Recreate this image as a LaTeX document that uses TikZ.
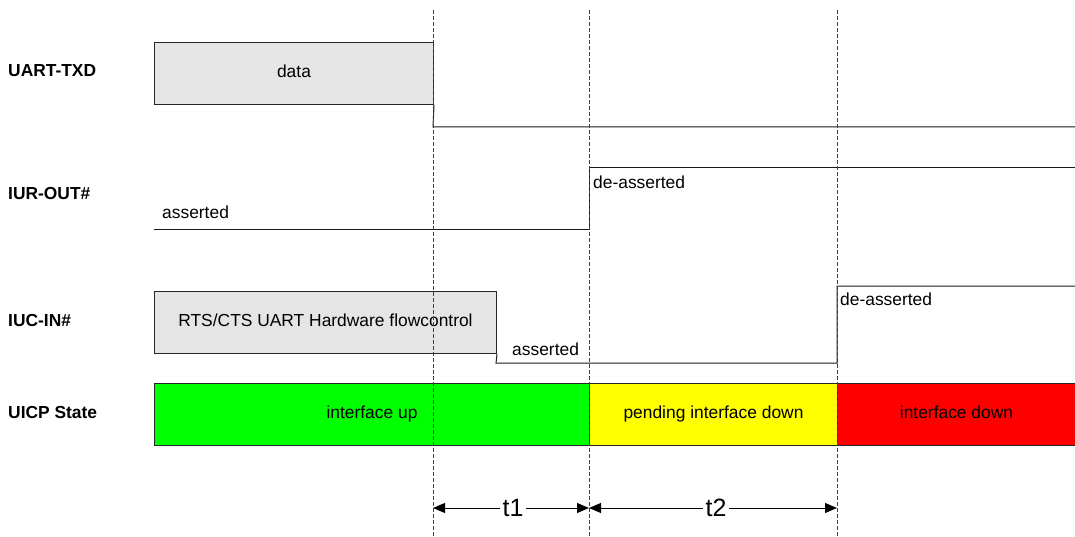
\documentclass[tikz,border=0pt]{standalone}
\usepackage{fontspec}
\setmainfont{Liberation Sans}
\usetikzlibrary{arrows.meta}
\begin{document}
\begin{tikzpicture}[x=1pt,y=-1pt,
  lbl/.style={font=\fontsize{17.4}{19}\selectfont\bfseries, anchor=west, inner sep=0pt, text height=0.85em, text depth=0pt},
  txt/.style={font=\fontsize{17.4}{19}\selectfont, inner sep=0pt, text height=0.85em, text depth=0pt},
  sig/.style={draw=black!90, line width=1pt},
  vline/.style={draw=black!75, dash pattern=on 4pt off 2pt, line width=0.8pt},
  blk/.style={draw=black!85, line width=1pt, inner sep=0pt, anchor=north west, font=\fontsize{17.4}{19}\selectfont, text height=0.85em, text depth=0pt},
  dimarrow/.style={-{Triangle[length=12pt,width=10pt]}, line width=1pt, draw=black},
  tlbl/.style={font=\fontsize{25}{27}\selectfont, inner sep=2pt}
]
\useasboundingbox (0,0) rectangle (1075,537);

% row labels
\node[lbl] (l1) at (8,72) {UART-TXD};
\node[lbl] (l2) at (8,195) {IUR-OUT\#};
\node[lbl] (l3) at (8,322) {IUC-IN\#};
\node[lbl] (l4) at (8,414) {UICP State};

% UART-TXD
\node[blk, fill=black!10, minimum width=279pt, minimum height=62pt] (data) at (154,42) {data};
\coordinate (tx1) at (433,127);
\coordinate (tx2) at (1075,127);
\draw[sig] (data.south east) -- (tx1) -- (tx2);

% IUR-OUT#
\coordinate (ur0) at (154,230);
\coordinate (ur1) at (589,230);
\coordinate (ur2) at (589,168);
\coordinate (ur3) at (1075,168);
\draw[sig] (ur0) -- (ur1) -- (ur2) -- (ur3);
\node[txt, anchor=west] (ura) at (162,214) {asserted};
\node[txt, anchor=west] (urd) at (593,184) {de-asserted};

% IUC-IN#
\node[blk, fill=black!10, minimum width=342pt, minimum height=62pt] (rts) at (154,291) {RTS/CTS UART Hardware flowcontrol};
\coordinate (uc1) at (496,363);
\coordinate (uc2) at (837,363);
\coordinate (uc3) at (837,286);
\coordinate (uc4) at (1075,286);
\draw[sig] (rts.south east) -- (uc1) -- (uc2) -- (uc3) -- (uc4);
\node[txt, anchor=west] (uca) at (512,351) {asserted};
\node[txt, anchor=west] (ucd) at (840,301) {de-asserted};

% UICP State
\node[blk, fill={rgb,255:red,0;green,255;blue,0}, minimum width=435pt, minimum height=62pt] (up) at (154,383) {interface up};
\node[blk, fill={rgb,255:red,255;green,255;blue,0}, minimum width=248pt, minimum height=62pt] (pend) at (589,383) {pending interface down};
\node[blk, fill={rgb,255:red,255;green,0;blue,0}, minimum width=238pt, minimum height=62pt] (down) at (837,383) {interface down};

% dashed time markers
\coordinate (d1t) at (433,10);  \coordinate (d1b) at (433,537);
\coordinate (d2t) at (589,10);  \coordinate (d2b) at (589,537);
\coordinate (d3t) at (837,10);  \coordinate (d3b) at (837,537);
\draw[vline] (d1t) -- (d1b);
\draw[vline] (d2t) -- (d2b);
\draw[vline] (d3t) -- (d3b);

% durations
\coordinate (a1) at (433,508);
\coordinate (a2) at (589,508);
\coordinate (a3) at (837,508);
\node[tlbl] (t1) at (513,508) {t1};
\node[tlbl] (t2) at (716,508) {t2};
\draw[dimarrow] (t1.west) -- (a1);
\draw[dimarrow] (t1.east) -- (a2);
\draw[dimarrow] (t2.west) -- (a2);
\draw[dimarrow] (t2.east) -- (a3);
\end{tikzpicture}
\end{document}
